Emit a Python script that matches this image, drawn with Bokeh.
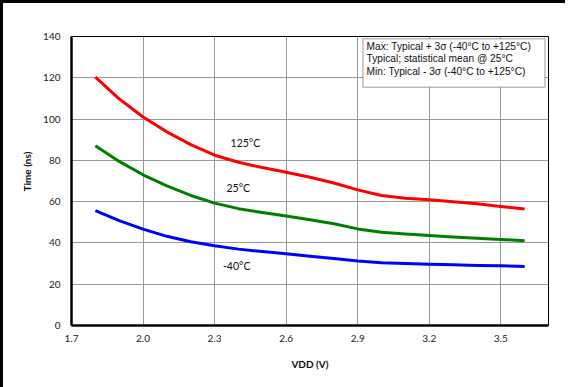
from bokeh.plotting import figure
from bokeh.models import Range1d, FixedTicker, Label, BoxAnnotation, NumeralTickFormatter, Title
from bokeh.embed import file_html
from bokeh.resources import INLINE

vdd = [1.8, 1.9, 2.0, 2.1, 2.2, 2.3, 2.4, 2.5, 2.6, 2.7, 2.8, 2.9, 3.0, 3.1, 3.2, 3.3, 3.4, 3.5, 3.6]
t_125 = [120.3, 109.8, 101, 93.8, 87.6, 82.5, 79.1, 76.5, 74.2, 71.8, 69.0, 65.7, 63.0, 61.6, 60.9, 60.0, 59.0, 57.7, 56.4]
t_25 = [87.1, 79.5, 73.0, 67.6, 63.0, 59.3, 56.6, 54.7, 53.0, 51.2, 49.3, 46.8, 45.2, 44.3, 43.6, 42.9, 42.3, 41.7, 41.0]
t_m40 = [55.7, 50.8, 46.7, 43.2, 40.6, 38.6, 37.0, 35.8, 34.8, 33.6, 32.5, 31.3, 30.4, 30.0, 29.7, 29.4, 29.1, 28.9, 28.6]
x_ticks = [1.7, 2.0, 2.3, 2.6, 2.9, 3.2, 3.5]
y_ticks = [0, 20, 40, 60, 80, 100, 120, 140]
x_min, x_max = 1.7, 3.7
y_min, y_max = 0, 140
series_labels = ["125°C", "25°C", "-40°C"]
label_x = [2.367, 2.350, 2.335]
label_y = [88.6, 66.5, 28.7]
note_lines = ["Max: Typical + 3σ (-40°C to +125°C)",
              "Typical; statistical mean @ 25°C",
              "Min: Typical - 3σ (-40°C to +125°C)"]

FONT = "Lato"

p = figure(output_backend="svg", toolbar_location=None,
           frame_width=477, frame_height=289,
           min_border_left=68, min_border_top=33, min_border_right=17, min_border_bottom=63,
           x_range=Range1d(x_min, x_max), y_range=Range1d(y_min, y_max))
p.styles = {"border-left": "3px solid black", "border-top": "3px solid black",
            "border-bottom": "3px solid black"}

p.outline_line_color = "black"
p.outline_line_width = 1
p.background_fill_color = "white"
p.border_fill_color = "white"

xt = FixedTicker(ticks=x_ticks)
yt = FixedTicker(ticks=y_ticks)
p.xaxis.ticker = xt
p.yaxis.ticker = yt
p.xgrid.ticker = xt
p.ygrid.ticker = yt
p.xaxis.formatter = NumeralTickFormatter(format="0.0")

for g in (p.xgrid[0], p.ygrid[0]):
    g.grid_line_color = "#999999"
    g.grid_line_width = 1

for ax in (p.xaxis[0], p.yaxis[0]):
    ax.axis_line_color = "black"
    ax.axis_line_width = 2.5
    ax.major_tick_line_color = None
    ax.minor_tick_line_color = None
    ax.major_tick_out = 0
    ax.major_tick_in = 0
    ax.major_label_text_font = FONT
    ax.major_label_text_font_size = "10px"
    ax.major_label_text_color = "#222222"
    ax.axis_label_text_font = FONT
    ax.axis_label_text_font_size = "10px"
    ax.axis_label_text_font_style = "bold"
    ax.axis_label_text_color = "#111111"

p.yaxis.major_label_standoff = 11
p.xaxis.major_label_standoff = 9
p.xaxis.axis_label = "VDD (V)"
p.xaxis.axis_label_standoff = 13

p.add_layout(Title(text="Time (ns)", align="left", offset=134, standoff=16,
                   text_font=FONT, text_font_size="10px", text_font_style="bold",
                   text_color="#111111"), "left")

p.line(vdd, t_125, line_color="#ff0000", line_width=3, line_join="round")
p.line(vdd, t_25, line_color="#008000", line_width=3, line_join="round")
p.line(vdd, t_m40, line_color="#0000ff", line_width=3, line_join="round")

for txt, lx, ly in zip(series_labels, label_x, label_y):
    p.add_layout(Label(x=lx, y=ly, text=txt, text_font=FONT, text_font_size="10.5px",
                       text_baseline="middle", text_align="left", text_color="#111111"))

p.add_layout(BoxAnnotation(left=2.922, right=3.685, top=138.9, bottom=115.4,
                           fill_color="white", fill_alpha=1.0,
                           line_color="#222222", line_width=1.5))
p.add_layout(Label(x=2.937, y=138.0, text="\n".join(note_lines),
                   text_font="Liberation Sans", text_font_size="10.2px",
                   text_baseline="top", text_align="left", text_line_height=1.14,
                   text_color="#111111"))

open("out.html", "w").write(file_html(p, INLINE))
